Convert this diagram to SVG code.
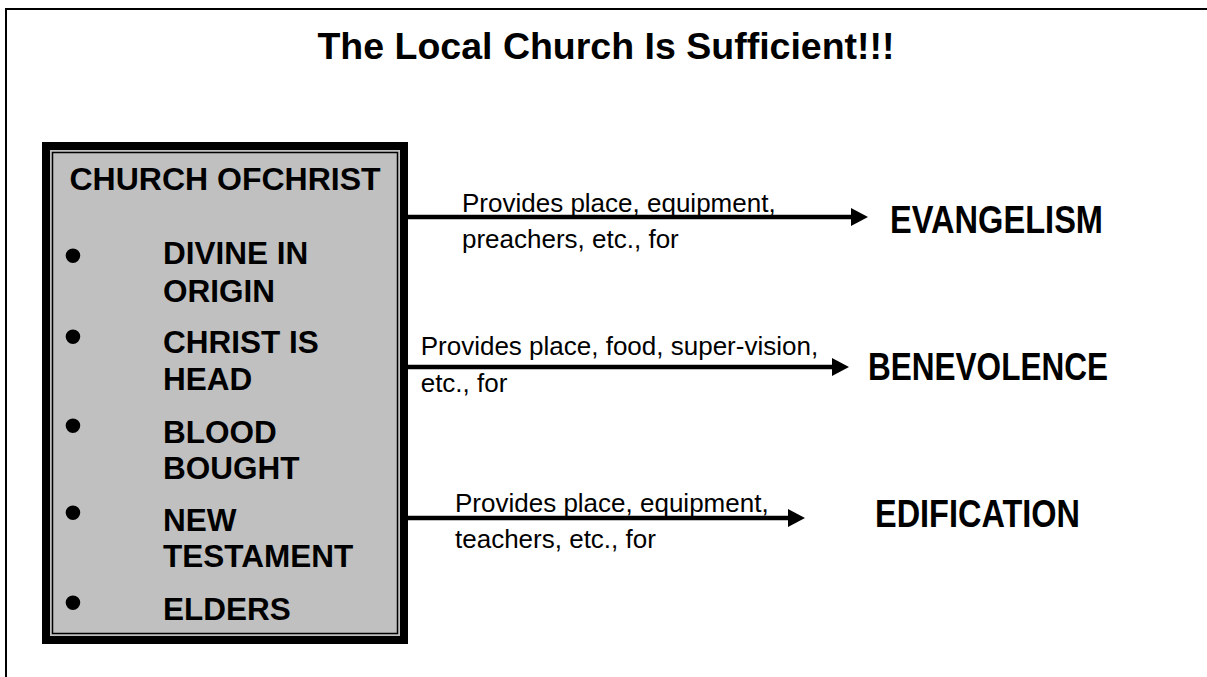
<svg xmlns="http://www.w3.org/2000/svg" width="1207" height="677" viewBox="0 0 1207 677">
<style>
  text { font-family: "Liberation Sans", Arial, sans-serif; fill: #000; }
  .title { font-size: 37.5px; font-weight: bold; }
  .head { font-size: 32px; font-weight: bold; }
  .item { font-size: 31.5px; font-weight: bold; }
  .bullet { font-size: 54px; }
  .label { font-size: 26px; }
  .target { font-size: 39px; font-weight: bold; }
  .conn line { stroke: #000; stroke-width: 4.5; }
  .conn polygon { fill: #000; }
</style>
<rect x="6" y="9" width="1212" height="680" fill="#fff" stroke="#000" stroke-width="2"/>
<text class="title" x="606" y="59" text-anchor="middle">The Local Church Is Sufficient!!!</text>

<g id="church-box">
  <rect x="42" y="142" width="366" height="502" fill="#000"/>
  <rect x="50" y="150" width="350" height="486" fill="#c0c0c0"/>
  <rect x="52.5" y="152.5" width="345" height="481" fill="none" stroke="#000" stroke-width="1.5"/>
  <text class="head" x="225" y="190" text-anchor="middle">CHURCH OFCHRIST</text>
  <text class="bullet" x="73" y="274.2" text-anchor="middle">•</text>
  <text class="item" x="163" y="264">DIVINE IN</text>
  <text class="item" x="163" y="302">ORIGIN</text>
  <text class="bullet" x="73" y="355.2" text-anchor="middle">•</text>
  <text class="item" x="163" y="353">CHRIST IS</text>
  <text class="item" x="163" y="390">HEAD</text>
  <text class="bullet" x="73" y="444.2" text-anchor="middle">•</text>
  <text class="item" x="163" y="443">BLOOD</text>
  <text class="item" x="163" y="479">BOUGHT</text>
  <text class="bullet" x="73" y="531.2" text-anchor="middle">•</text>
  <text class="item" x="163" y="531">NEW</text>
  <text class="item" x="163" y="567">TESTAMENT</text>
  <text class="bullet" x="73" y="621.2" text-anchor="middle">•</text>
  <text class="item" x="163" y="620">ELDERS</text>
</g>

<g id="evangelism">
  <text class="target" x="890" y="233" textLength="213" lengthAdjust="spacingAndGlyphs">EVANGELISM</text>
</g>
<g id="benevolence">
  <text class="target" x="868" y="380" textLength="240" lengthAdjust="spacingAndGlyphs">BENEVOLENCE</text>
</g>
<g id="edification">
  <text class="target" x="875" y="527" textLength="205" lengthAdjust="spacingAndGlyphs">EDIFICATION</text>
</g>

<g id="connectors" class="conn">
  <g id="arrow-evangelism">
    <line x1="408" y1="217" x2="853" y2="217"/>
    <polygon points="851,208 868,217 851,226"/>
    <text class="label" x="462" y="211.7">Provides place, equipment,</text>
    <text class="label" x="462" y="248.3">preachers, etc., for</text>
  </g>
  <g id="arrow-benevolence">
    <line x1="408" y1="367" x2="834" y2="367"/>
    <polygon points="832,358 849,367 832,376"/>
    <text class="label" x="420.7" y="355">Provides place, food, super-vision,</text>
    <text class="label" x="420.7" y="391.7">etc., for</text>
  </g>
  <g id="arrow-edification">
    <line x1="408" y1="518" x2="790" y2="518"/>
    <polygon points="788,509 805,518 788,527"/>
    <text class="label" x="455" y="511.7">Provides place, equipment,</text>
    <text class="label" x="455" y="548.3">teachers, etc., for</text>
  </g>
</g>
</svg>
